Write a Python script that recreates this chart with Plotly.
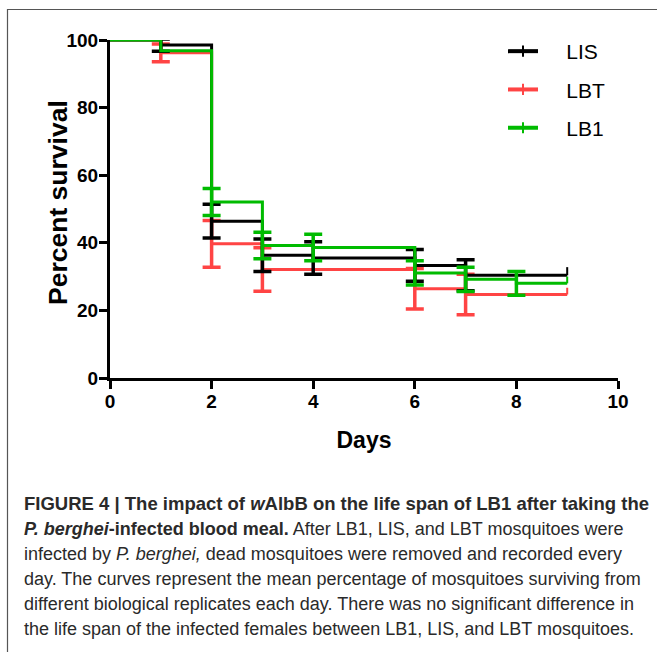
import plotly.graph_objects as go

# ---------------- data ----------------
series_names = ["LIS", "LBT", "LB1"]
series_colors = ["#000000", "#FF4444", "#00BB00"]

# step curves (day, percent survival); last point is the censor at day 9
lis_days = [0, 1, 2, 3, 4, 6, 7, 9]
lis_surv = [100, 98.5, 46.4, 36.3, 35.5, 33.3, 30.4, 30.4]
lbt_days = [0, 1, 2, 3, 6, 7, 9]
lbt_surv = [100, 96.2, 39.7, 32.1, 26.4, 24.7, 24.7]
lb1_days = [0, 1, 2, 3, 4, 6, 7, 8, 9]
lb1_surv = [100, 96.8, 52.1, 39.2, 38.6, 31.1, 29.2, 28.0, 28.0]

# error bars (SEM) at event days
lis_err_days = [1, 2, 3, 4, 6, 7]
lis_err = [1.8, 5.0, 4.8, 4.8, 4.7, 4.6]
lbt_err_days = [1, 2, 3, 6, 7]
lbt_err = [2.6, 6.9, 6.4, 6.0, 6.0]
lb1_err_days = [2, 3, 4, 6, 7, 8]
lb1_err = [4.0, 3.9, 3.9, 3.6, 3.6, 3.5]

censor_tick = [2.4, 2.0, 2.0]

x_ticks = [0, 2, 4, 6, 8, 10]
y_ticks = [0, 20, 40, 60, 80, 100]

caption_lines = [
    "<b>FIGURE 4 | The impact of <i>w</i>AlbB on the life span of LB1 after taking the</b>",
    "<b><i>P. berghei</i>-infected blood meal.</b> After LB1, LIS, and LBT mosquitoes were",
    "infected by <i>P. berghei,</i> dead mosquitoes were removed and recorded every",
    "day. The curves represent the mean percentage of mosquitoes surviving from",
    "different biological replicates each day. There was no significant difference in",
    "the life span of the infected females between LB1, LIS, and LBT mosquitoes.",
]

curves = [
    (lis_days, lis_surv, lis_err_days, lis_err),
    (lbt_days, lbt_surv, lbt_err_days, lbt_err),
    (lb1_days, lb1_surv, lb1_err_days, lb1_err),
]

# ---------------- layout geometry ----------------
W, H = 657, 652
L, R, T, B = 110, 39, 40, 274
pw = W - L - R
ph = H - T - B


def px_to_paper_x(px):
    return (px - L) / pw


def px_to_paper_y(py):
    return (H - B - py) / ph


fig = go.Figure()

draw_order = [1, 0, 2]
for i in draw_order:
    days, surv, edays, err = curves[i]
    col = series_colors[i]
    fig.add_trace(go.Scatter(
        x=days, y=surv, mode="lines", line=dict(color=col, width=3, shape="hv"),
        showlegend=False, hoverinfo="skip"))
    ey = [surv[days.index(d)] for d in edays]
    fig.add_trace(go.Scatter(
        x=edays, y=ey, mode="markers", marker=dict(size=1, color=col, opacity=0),
        error_y=dict(type="data", array=err, symmetric=True, color=col,
                     thickness=3.5, width=9),
        showlegend=False, hoverinfo="skip"))
    # censor tick at end of curve
    fig.add_trace(go.Scatter(
        x=[days[-1]], y=[surv[-1]], mode="markers",
        marker=dict(size=1, color=col, opacity=0),
        error_y=dict(type="data", array=[censor_tick[i]], arrayminus=[0],
                     symmetric=False, color=col, thickness=2, width=0),
        showlegend=False, hoverinfo="skip"))

# legend entries
for i, name in enumerate(series_names):
    fig.add_trace(go.Scatter(
        x=[None], y=[None], mode="lines+markers",
        name="\u00a0\u00a0\u00a0\u00a0" + name,
        legendgroup=name,
        line=dict(color=series_colors[i], width=4),
        marker=dict(symbol="line-ns", size=8, line=dict(color=series_colors[i], width=2))))

tick_font = dict(family="Liberation Sans, Arial", size=19, color="black", weight="bold")

fig.update_xaxes(
    range=[0, 10], tickvals=x_ticks, ticktext=[str(v) for v in x_ticks],
    showline=True, linewidth=3, linecolor="black", ticks="outside",
    ticklen=8, tickwidth=3, tickcolor="black", showgrid=False, zeroline=False,
    tickfont=tick_font, ticklabelstandoff=-4,
    title=dict(text="Days", font=dict(family="Liberation Sans, Arial", size=23,
                                      color="black", weight="bold"), standoff=22))
fig.update_yaxes(
    range=[0, 100], tickvals=y_ticks, ticktext=[str(v) for v in y_ticks],
    showline=True, linewidth=3, linecolor="black", ticks="outside",
    ticklen=8, tickwidth=3, tickcolor="black", showgrid=False, zeroline=False,
    tickfont=tick_font, ticklabelstandoff=-3)

annotations = [dict(
    text="<b>Percent survival</b>", textangle=-90,
    x=px_to_paper_x(58), y=px_to_paper_y(203), xref="paper", yref="paper",
    xanchor="center", yanchor="middle", showarrow=False,
    font=dict(family="Liberation Sans, Arial", size=26.5, color="black"))]

line_y = [503, 529, 554, 579, 604, 629]
for k, (txt, yy) in enumerate(zip(caption_lines, line_y)):
    annotations.append(dict(
        text=txt, x=px_to_paper_x(22), y=px_to_paper_y(yy), xref="paper", yref="paper",
        xanchor="left", yanchor="middle", showarrow=False, align="left",
        font=dict(family="Liberation Sans, Arial", size=18.5 if k == 0 else 18.0,
                  color="#2a2a2a")))

shapes = [
    dict(type="rect", xref="paper", yref="paper", layer="above",
         x0=px_to_paper_x(7.5), x1=px_to_paper_x(720),
         y0=px_to_paper_y(720), y1=px_to_paper_y(9.5),
         line=dict(color="#555555", width=1.2), fillcolor="rgba(0,0,0,0)"),
]

fig.update_layout(
    width=W, height=H, margin=dict(l=L, r=R, t=T, b=B, autoexpand=False),
    plot_bgcolor="white", paper_bgcolor="white",
    showlegend=True,
    legend=dict(x=px_to_paper_x(503), y=px_to_paper_y(31), xanchor="left", yanchor="top",
                font=dict(family="Liberation Sans, Arial", size=21, color="black"),
                tracegroupgap=8, bgcolor="rgba(0,0,0,0)", itemwidth=30),
    annotations=annotations, shapes=shapes,
)

fig.write_html("out.html", config={"displayModeBar": False},
               post_script="document.body.style.margin='0';document.body.style.padding='0';")
